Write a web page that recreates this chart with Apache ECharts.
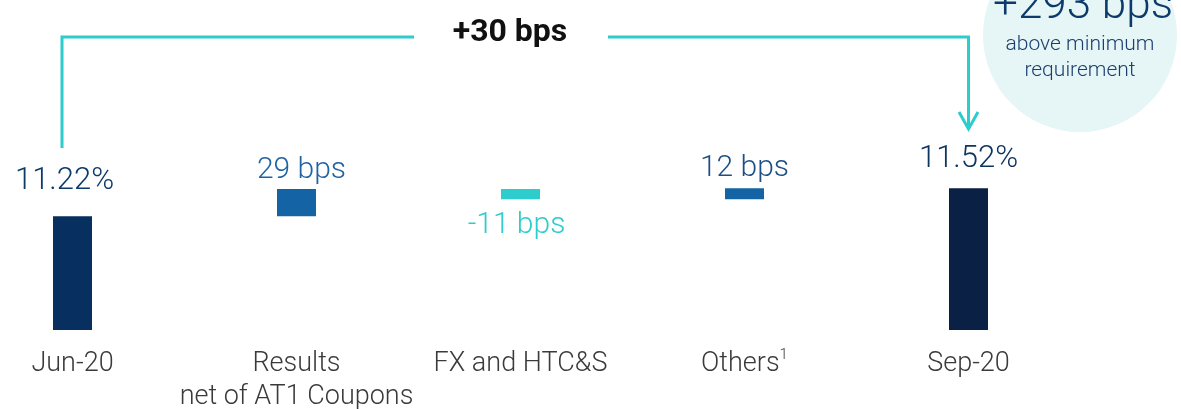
<!DOCTYPE html>
<html>
<head>
<meta charset="utf-8">
<script src="https://cdn.jsdelivr.net/npm/echarts@6/dist/echarts.min.js"></script>
<style>
html,body{margin:0;padding:0;background:#ffffff;}
#chart{width:1181px;height:409px;}
</style>
</head>
<body>
<div id="chart"></div>
<script>
// ---- data ----
const categories = ['Jun-20', 'Results', 'FX and HTC&S', 'Others', 'Sep-20'];
const categoryLabels = ['Jun-20', 'Results\nnet of AT1 Coupons', 'FX and HTC&S', 'Others{sup|1}', 'Sep-20'];
const totals = [11.22, null, null, null, 11.52];          // CET1 ratio, %
const deltasBps = [null, 29, -11, 12, null];              // changes, bps
const totalLabels = ['11.22%', null, null, null, '11.52%'];
const bracketLabel = '+30 bps';
const bubbleValue = '+293 bps';
const bubbleLines = ['above minimum', 'requirement'];

// ---- styles ----
const FONT = 'Roboto';
const TEAL = '#2DCCCD';
const totalColors = ['#072F5F', null, null, null, '#0A2145'];
const changeColors = [null, '#1464A5', '#2DCCCD', '#1464A5', null];
const changeLabelColors = [null, '#1F63A3', '#2DCCCD', '#1D4F87', null];
const totalLabelColors = ['#0B3A6B', null, null, null, '#0E3460'];
const labelDistance = [19, 4, 11, 5, 13];
const labelOffsetX = [-8, 5, -4, 0, 0];

// ---- waterfall build ----
const base = [], change = [];
let running = totals[0];
for (let i = 0; i < categories.length; i++) {
  if (deltasBps[i] == null) { base.push(null); change.push(null); continue; }
  const d = deltasBps[i] / 100;
  if (d >= 0) {
    base.push(+running.toFixed(4)); change.push(+d.toFixed(4)); running += d;
  } else {
    running += d; base.push(+running.toFixed(4)); change.push(+(-d).toFixed(4));
  }
}

const chart = echarts.init(document.getElementById('chart'), null, {renderer: 'canvas'});
const BAR_W = 39;

const option = {
  animation: false,
  backgroundColor: '#ffffff',
  grid: {left: 72.5, right: 212.5, top: 180.67, bottom: 79, containLabel: false, outerBoundsMode: 'none'},
  xAxis: {
    type: 'category',
    data: categories,
    boundaryGap: false,
    axisLine: {show: false},
    axisTick: {show: false},
    splitLine: {show: false},
    axisLabel: {
      interval: 0,
      margin: 18,
      fontFamily: FONT,
      fontWeight: 300,
      fontSize: 27,
      lineHeight: 33,
      color: '#3a3a3a',
      formatter: (v, i) => categoryLabels[i],
      rich: {
        sup: {fontFamily: FONT, fontWeight: 300, fontSize: 15, lineHeight: 2, color: '#3a3a3a', verticalAlign: 'top'}
      }
    }
  },
  yAxis: {type: 'value', min: 10, max: 11.6, show: false, splitLine: {show: false}},
  series: [
    {
      name: 'base', type: 'bar', stack: 'w', barWidth: BAR_W, silent: true,
      itemStyle: {color: 'rgba(0,0,0,0)'},
      data: base
    },
    {
      name: 'change', type: 'bar', stack: 'w', barWidth: BAR_W,
      data: change.map((v, i) => v == null ? null : {
        value: v,
        itemStyle: {color: changeColors[i]},
        label: {
          show: true,
          position: deltasBps[i] >= 0 ? 'top' : 'bottom',
          distance: labelDistance[i],
          offset: [labelOffsetX[i], 0],
          formatter: deltasBps[i] + ' bps',
          fontFamily: FONT, fontWeight: 300, fontSize: 30,
          color: changeLabelColors[i]
        }
      })
    },
    {
      name: 'total', type: 'bar', stack: 'w', barWidth: BAR_W,
      data: totals.map((v, i) => v == null ? null : {
        value: v,
        itemStyle: {color: totalColors[i]},
        label: {
          show: true, position: 'top',
          distance: labelDistance[i],
          offset: [labelOffsetX[i], 0],
          formatter: totalLabels[i],
          fontFamily: FONT, fontWeight: 300, fontSize: 31,
          color: totalLabelColors[i]
        }
      })
    }
  ]
};
chart.setOption(option);

// ---- annotations positioned from the chart's own scales ----
const pJun = chart.convertToPixel({seriesIndex: 2}, [0, totals[0]]);
const pSep = chart.convertToPixel({seriesIndex: 2}, [4, totals[4]]);
const xL = pJun[0] - 10.5;
const xR = pSep[0];
const yTop = 37;
chart.setOption({
  graphic: [
    {type: 'circle', z: 0, shape: {cx: 1080, cy: 35, r: 97}, style: {fill: '#E6F5F5'}},
    {type: 'text', z: 1, style: {x: 1083, y: 7, text: bubbleValue, align: 'center', verticalAlign: 'middle',
      font: '300 44px Roboto', fill: '#0B3A6B'}},
    {type: 'text', z: 1, style: {x: 1080, y: 45, text: bubbleLines[0], align: 'center', verticalAlign: 'middle',
      font: '300 21px Roboto', fill: '#1A3F6E'}},
    {type: 'text', z: 1, style: {x: 1080, y: 71, text: bubbleLines[1], align: 'center', verticalAlign: 'middle',
      font: '300 21px Roboto', fill: '#1A3F6E'}},
    {type: 'polyline', z: 1, shape: {points: [[xL, 148], [xL, yTop], [414, yTop]]},
      style: {stroke: TEAL, lineWidth: 3, fill: null}},
    {type: 'polyline', z: 1, shape: {points: [[608, yTop], [xR, yTop], [xR, 128]]},
      style: {stroke: TEAL, lineWidth: 3, fill: null}},
    {type: 'polyline', z: 1, shape: {points: [[xR - 9.5, 112], [xR, 129], [xR + 9.5, 112]]},
      style: {stroke: TEAL, lineWidth: 3, fill: null}},
    {type: 'text', z: 1, style: {x: 510, y: 33, text: bracketLabel, align: 'center', verticalAlign: 'middle',
      font: 'bold 32px Roboto', fill: '#111111'}}
  ]
});
</script>
</body>
</html>
